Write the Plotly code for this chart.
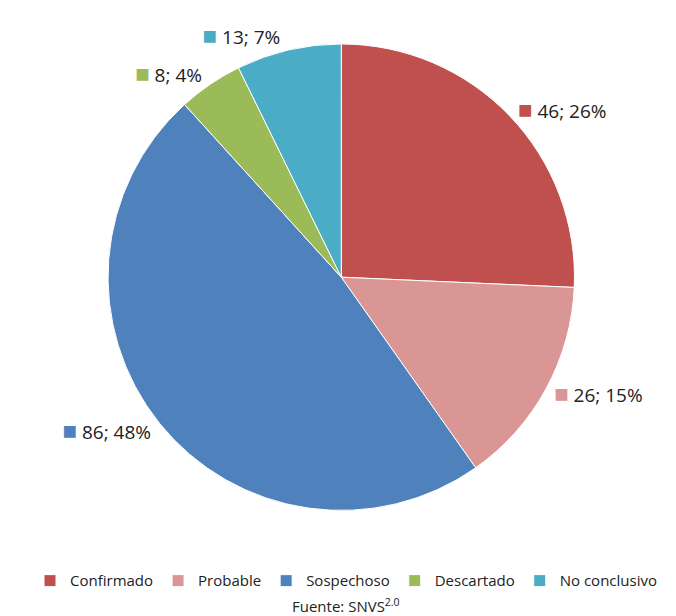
import plotly.graph_objects as go

labels = ["Confirmado", "Probable", "Sospechoso", "Descartado", "No conclusivo"]
values = [46, 26, 86, 8, 13]
pcts = ["26%", "15%", "48%", "4%", "7%"]
colors = ["#C0504D", "#D99694", "#4F81BD", "#9BBB59", "#4BACC6"]

texts = ['<span style="color:%s;font-size:24px">■</span> %d; %s' % (c, v, p)
         for c, v, p in zip(colors, values, pcts)]

fig = go.Figure(go.Pie(
    labels=labels, values=values, text=texts, texttemplate="%{text}",
    textinfo="text", textposition="outside", sort=False, direction="clockwise",
    rotation=0, marker=dict(colors=colors, line=dict(color="white", width=1)),
    textfont=dict(size=19, color="#222"), automargin=False,
    domain=dict(x=[0.148, 0.838], y=[0.183, 0.943]), hoverinfo="label+value",
))
fig.update_layout(
    width=676, height=616, margin=dict(l=0, r=0, t=0, b=0),
    font=dict(family="Open Sans, Liberation Sans, sans-serif"),
    paper_bgcolor="white",
    legend=dict(orientation="h", x=0.5, xanchor="center", y=0.07, yanchor="middle",
                font=dict(size=15, color="#222"), itemwidth=30),
    annotations=[dict(text="Fuente: SNVS<sup>2.0</sup>", x=0.5, y=0.0, xref="paper",
                      yref="paper", xanchor="center", yanchor="bottom", yshift=6,
                      showarrow=False, font=dict(size=15, color="#222"))],
)
fig.write_html("out.html")
